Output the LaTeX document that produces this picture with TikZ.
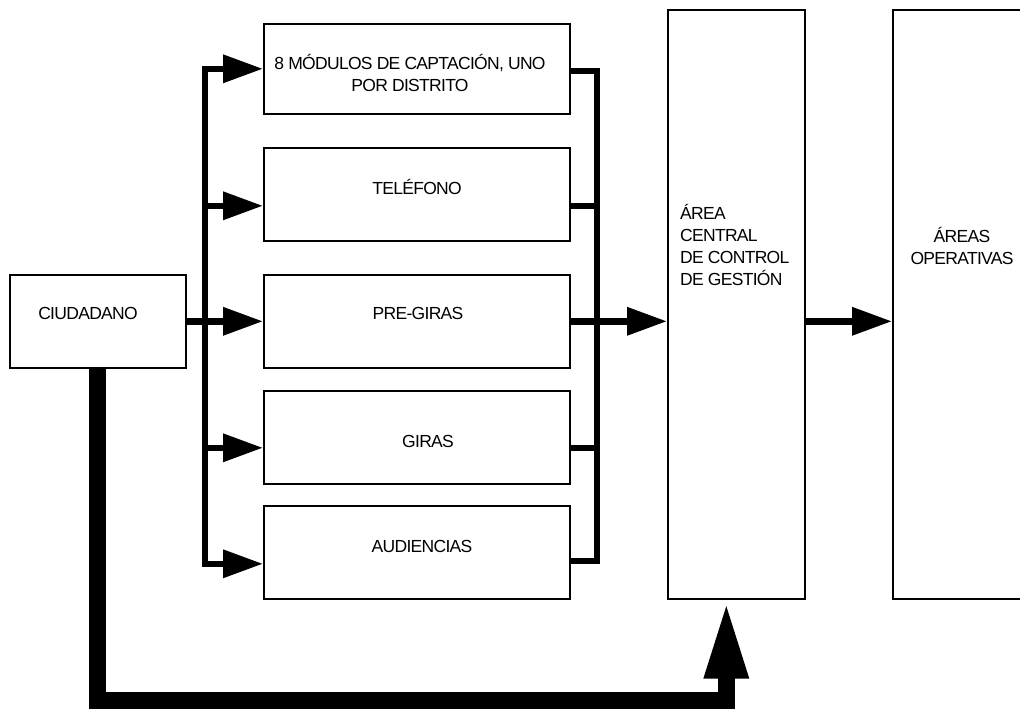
\documentclass[tikz,border=0pt]{standalone}
\usepackage{fontspec}
\setmainfont{Liberation Sans}[LetterSpace=-4]
\usetikzlibrary{arrows.meta}
\begin{document}
\begin{tikzpicture}[x=1pt,y=-1pt,
  box/.style={draw,line width=1.6pt,rectangle,inner sep=0pt,anchor=north west},
  lbl/.style={font=\fontsize{17.5}{22}\selectfont,inner sep=0pt,align=center},
  bus/.style={line width=6.5pt,line join=miter},
  tipS/.style={-{Triangle[length=40pt,width=27pt]}},
  thickln/.style={line width=17pt,line join=miter},
  tipB/.style={-{Triangle[length=79pt,width=40pt]}}
]
\useasboundingbox (0,0) rectangle (1020,709);
% boxes
\node[box,minimum width=176pt,minimum height=93pt] (ciud) at (9,274) {};
\node[box,minimum width=306pt,minimum height=90pt] (b1) at (263,23) {};
\node[box,minimum width=306pt,minimum height=93pt] (b2) at (263,147) {};
\node[box,minimum width=306pt,minimum height=93pt] (b3) at (263,274) {};
\node[box,minimum width=306pt,minimum height=93pt] (b4) at (263,390) {};
\node[box,minimum width=306pt,minimum height=93pt] (b5) at (263,505) {};
\node[box,minimum width=137pt,minimum height=589pt] (cen) at (667,9) {};
\node[box,minimum width=140pt,minimum height=589pt] (ope) at (892,9) {};
% texts
\node[lbl] (tciud) at (88,313) {CIUDADANO};
\node[lbl] (t1) at (410,73) {8 MÓDULOS DE CAPTACIÓN, UNO\\POR DISTRITO};
\node[lbl] (t2) at (417,187) {TELÉFONO};
\node[lbl] (t3) at (418,313) {PRE-GIRAS};
\node[lbl] (t4) at (428,441) {GIRAS};
\node[lbl] (t5) at (422,546) {AUDIENCIAS};
\node[lbl,align=left,anchor=west] (tcen) at (680,245) {ÁREA\\CENTRAL\\DE CONTROL\\DE GESTIÓN};
\node[lbl] (tope) at (962,246) {ÁREAS\\OPERATIVAS};
% helper coordinates
\coordinate (busL) at (205,0);
\coordinate (busR) at (597,0);
\coordinate (a2) at ([yshift=-11.5pt]b2.west);
\coordinate (a4) at ([yshift=-10.5pt]b4.west);
\coordinate (a5) at ([yshift=-11.5pt]b5.west);
\coordinate (r1) at ([yshift=-2pt]b1.east);
\coordinate (r2) at ([yshift=-11.5pt]b2.east);
\coordinate (r4) at ([yshift=-10.5pt]b4.east);
\coordinate (r5) at ([yshift=-8.5pt]b5.east);
% left bus
\draw[bus,tipS] (busL |- b3.west) |- (b1.west);
\draw[bus,tipS] (busL |- b3.west) |- (a5);
\draw[bus,tipS] (busL |- a2) -- (a2);
\draw[bus,tipS] (busL |- a4) -- (a4);
\draw[bus,tipS] (ciud.east) -- (b3.west);
% right bus
\draw[bus] (r1) -| (busR |- r5) -- (r5);
\draw[bus] (r2) -- (busR |- r2);
\draw[bus] (r4) -- (busR |- r4);
\draw[bus,tipS] (b3.east) -- (b3.east -| cen.west);
\draw[bus,tipS] (b3.east -| cen.east) -- (b3.east -| ope.west);
% bottom feedback
\draw[thickln,tipB] (ciud.south) |- ([xshift=-10pt]cen.south |- 0,700) -- ([xshift=-10pt]cen.south);
\end{tikzpicture}
\end{document}
